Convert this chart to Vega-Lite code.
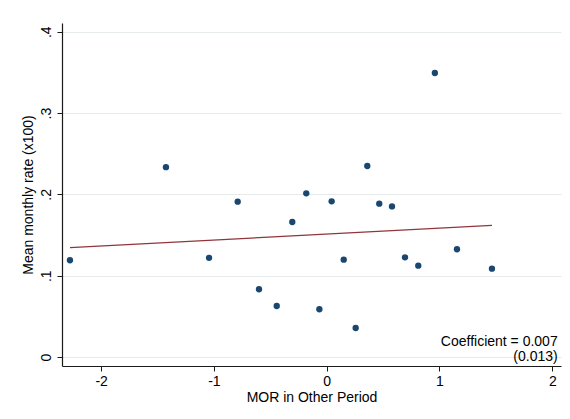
{
  "$schema": "https://vega.github.io/schema/vega-lite/v6.json",
  "width": 499,
  "height": 343,
  "autosize": "none",
  "padding": {"left": 62, "top": 23, "right": 9, "bottom": 53},
  "background": "white",
  "config": {
    "font": "Liberation Sans",
    "view": {"stroke": null},
    "axis": {
      "labelFontSize": 14,
      "labelColor": "#000000",
      "titleFontSize": 14,
      "titleFontWeight": "normal",
      "titleColor": "#000000",
      "domainColor": "#1a1a1a",
      "domainWidth": 1.2,
      "tickColor": "#1a1a1a",
      "tickSize": 5,
      "tickWidth": 1
    }
  },
  "layer": [
    {
      "data": {
        "values": [
          {"mor": -2.276, "rate": 0.119},
          {"mor": -1.425, "rate": 0.2335},
          {"mor": -1.043, "rate": 0.122},
          {"mor": -0.789, "rate": 0.191},
          {"mor": -0.600, "rate": 0.0833},
          {"mor": -0.443, "rate": 0.0627},
          {"mor": -0.305, "rate": 0.166},
          {"mor": -0.181, "rate": 0.2013},
          {"mor": -0.065, "rate": 0.0587},
          {"mor": 0.044, "rate": 0.1915},
          {"mor": 0.151, "rate": 0.1197},
          {"mor": 0.257, "rate": 0.0357},
          {"mor": 0.360, "rate": 0.2349},
          {"mor": 0.466, "rate": 0.1886},
          {"mor": 0.579, "rate": 0.1852},
          {"mor": 0.694, "rate": 0.1226},
          {"mor": 0.812, "rate": 0.1123},
          {"mor": 0.959, "rate": 0.3493},
          {"mor": 1.155, "rate": 0.1325},
          {"mor": 1.465, "rate": 0.1086}
        ]
      },
      "mark": {"type": "circle", "size": 40, "color": "#1a476f", "opacity": 1},
      "encoding": {
        "x": {
          "field": "mor",
          "type": "quantitative",
          "scale": {"domain": [-2.3466, 2.0772], "nice": false, "zero": false},
          "axis": {
            "title": "MOR in Other Period",
            "values": [-2, -1, 0, 1, 2],
            "labelExpr": "'' + datum.value",
            "grid": false,
            "labelPadding": 3,
            "titlePadding": 2
          }
        },
        "y": {
          "field": "rate",
          "type": "quantitative",
          "scale": {"domain": [-0.01107, 0.4108], "nice": false, "zero": false},
          "axis": {
            "title": "Mean monthly rate (x100)",
            "values": [0, 0.1, 0.2, 0.3, 0.4],
            "labelExpr": "datum.value == 0 ? '0' : replace(format(datum.value, '.1f'), '0.', '.')",
            "labelAngle": -90,
            "labelAlign": "center",
            "labelBaseline": "bottom",
            "labelPadding": 4,
            "titlePadding": 4,
            "grid": true,
            "gridColor": "#e6eaeb",
            "gridWidth": 1
          }
        }
      }
    },
    {
      "data": {
        "values": [
          {"mor": -2.276, "fit": 0.1345},
          {"mor": 1.465, "fit": 0.1620}
        ]
      },
      "mark": {"type": "line", "color": "#90353b", "strokeWidth": 1.2},
      "encoding": {
        "x": {"field": "mor", "type": "quantitative"},
        "y": {"field": "fit", "type": "quantitative"}
      }
    },
    {
      "data": {
        "values": [
          {"coef": "Coefficient = 0.007", "se": "(0.013)"}
        ]
      },
      "mark": {
        "type": "text",
        "align": "right",
        "baseline": "alphabetic",
        "fontSize": 14,
        "lineHeight": 15,
        "color": "#000000"
      },
      "encoding": {
        "x": {"datum": 2.048},
        "y": {"datum": 0.0135},
        "text": {"value": ["Coefficient = 0.007", "(0.013)"]}
      }
    }
  ]
}
